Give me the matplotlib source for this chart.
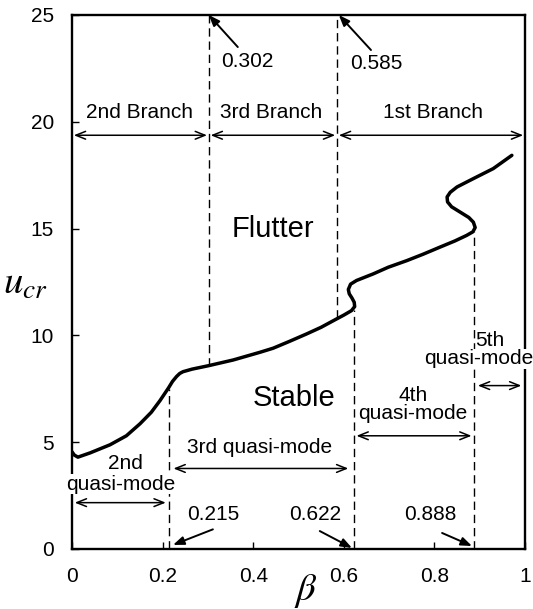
import matplotlib
matplotlib.use("Agg")
import matplotlib.pyplot as plt

plt.rcParams['font.family'] = ['Liberation Sans', 'DejaVu Sans']
plt.rcParams['mathtext.fontset'] = 'stix'

# critical flutter speed curve (beta, u_cr)
beta = [0.000, 0.005, 0.013, 0.040, 0.084, 0.120, 0.150, 0.175, 0.194, 0.213,
        0.222, 0.231, 0.238, 0.245, 0.265, 0.301, 0.356, 0.415, 0.444, 0.480,
        0.518, 0.550, 0.577, 0.600, 0.617, 0.624, 0.623, 0.618, 0.612, 0.610,
        0.615, 0.628, 0.665, 0.698, 0.739, 0.775, 0.812, 0.845, 0.871, 0.885,
        0.890, 0.886, 0.876, 0.857, 0.838, 0.829, 0.828, 0.835, 0.850, 0.886,
        0.930, 0.971]
u_cr = [4.55, 4.40, 4.30, 4.50, 4.88, 5.30, 5.86, 6.40, 6.94, 7.54,
        7.85, 8.08, 8.22, 8.30, 8.42, 8.58, 8.85, 9.21, 9.40, 9.72,
        10.07, 10.38, 10.69, 10.95, 11.16, 11.35, 11.55, 11.75, 11.95, 12.15,
        12.40, 12.57, 12.88, 13.19, 13.50, 13.80, 14.13, 14.42, 14.68, 14.85,
        15.05, 15.30, 15.52, 15.77, 16.02, 16.25, 16.48, 16.70, 16.95, 17.34,
        17.81, 18.43]

# branch boundaries (upper dashed lines) and quasi-mode boundaries (lower dashed lines)
branch_x = [0.302, 0.585]
branch_lo = [8.58, 10.80]
mode_x = [0.215, 0.622, 0.888]
mode_hi = [7.50, 11.20, 14.85]

branch_labels = ["2nd Branch", "3rd Branch", "1st Branch"]
branch_spans = [(0.0, 0.302), (0.302, 0.585), (0.585, 1.0)]

xticks = [0, 0.2, 0.4, 0.6, 0.8, 1]
xticklabels = ["0", "0.2", "0.4", "0.6", "0.8", "1"]
yticks = [0, 5, 10, 15, 20, 25]

fig = plt.figure(figsize=(5.33, 6.09), dpi=100)
ax = fig.add_axes([72/533, 1-549/609, (525-72)/533, (549-15)/609])

ax.plot(beta, u_cr, color='black', lw=2.5, solid_joinstyle='round', solid_capstyle='round', zorder=4)

for x, lo in zip(branch_x, branch_lo):
    ax.plot([x, x], [lo, 25], color='black', lw=1.0, dashes=(6, 3.5), zorder=2)
for x, hi in zip(mode_x, mode_hi):
    ax.plot([x, x], [0, hi], color='black', lw=1.0, dashes=(6, 3.5), zorder=2)

fs = 15
dbl = dict(arrowstyle='<->,head_length=0.7,head_width=0.28', color='black', lw=1.1,
           shrinkA=0, shrinkB=0)
one = dict(arrowstyle='-|>,head_length=0.65,head_width=0.25', color='black', lw=1.4,
           shrinkA=0, shrinkB=0)

# branch arrows
y_br = 19.37
for lab, (a, b) in zip(branch_labels, branch_spans):
    ax.annotate('', xy=(b - 0.004, y_br), xytext=(a + 0.004, y_br), arrowprops=dbl)
ax.text(0.15, 20.45, "2nd Branch", fontsize=fs, ha='center', va='center')
ax.text(0.44, 20.45, "3rd Branch", fontsize=fs, ha='center', va='center')
ax.text(0.797, 20.45, "1st Branch", fontsize=fs, ha='center', va='center')

# top value annotations
ax.annotate('', xy=(0.302, 25), xytext=(0.366, 23.5), arrowprops=one)
ax.text(0.386, 22.8, "0.302", fontsize=fs, ha='center', va='center')
ax.annotate('', xy=(0.589, 25), xytext=(0.66, 23.36), arrowprops=one)
ax.text(0.671, 22.75, "0.585", fontsize=fs, ha='center', va='center')

# region labels
ax.text(0.444, 15.0, "Flutter", fontsize=21, ha='center', va='center')
ax.text(0.49, 7.05, "Stable", fontsize=21, ha='center', va='center')

# quasi-mode arrows and labels
wb = dict(facecolor='white', edgecolor='none', pad=0.5)
ax.annotate('', xy=(0.207, 2.17), xytext=(0.006, 2.17), arrowprops=dbl)
ax.text(0.117, 3.98, "2nd", fontsize=fs, ha='center', va='center')
ax.text(0.107, 3.04, "quasi-mode", fontsize=fs, ha='center', va='center', bbox=wb, zorder=5)

ax.annotate('', xy=(0.610, 3.77), xytext=(0.224, 3.77), arrowprops=dbl)
ax.text(0.413, 4.75, "3rd quasi-mode", fontsize=fs, ha='center', va='center')

ax.annotate('', xy=(0.882, 5.3), xytext=(0.628, 5.3), arrowprops=dbl)
ax.text(0.753, 7.18, "4th", fontsize=fs, ha='center', va='center')
ax.text(0.753, 6.33, "quasi-mode", fontsize=fs, ha='center', va='center')

ax.annotate('', xy=(0.992, 7.65), xytext=(0.896, 7.65), arrowprops=dbl)
ax.text(0.923, 9.76, "5th", fontsize=fs, ha='center', va='center')
ax.text(0.898, 8.9, "quasi-mode", fontsize=fs, ha='center', va='center', bbox=wb, zorder=5)

# bottom value annotations
ax.annotate('', xy=(0.223, 0.19), xytext=(0.311, 0.92), arrowprops=one)
ax.text(0.311, 1.63, "0.215", fontsize=fs, ha='center', va='center')
ax.annotate('', xy=(0.618, 0.05), xytext=(0.547, 0.84), arrowprops=one)
ax.text(0.536, 1.63, "0.622", fontsize=fs, ha='center', va='center')
ax.annotate('', xy=(0.883, 0.14), xytext=(0.817, 0.75), arrowprops=one)
ax.text(0.79, 1.63, "0.888", fontsize=fs, ha='center', va='center')

ax.set_xlim(0, 1)
ax.set_ylim(0, 25)
ax.set_xticks(xticks)
ax.set_xticklabels(xticklabels)
ax.set_yticks(yticks)
ax.tick_params(direction='in', length=5, width=1.0, labelsize=fs, pad=13,
               top=False, right=False)
for s in ax.spines.values():
    s.set_linewidth(1.7)

ax.text(-0.103, 0.497, r"$u_{cr}$", fontsize=28, ha='center', va='center',
        transform=ax.transAxes)
ax.text(0.517, -0.079, r"$\beta$", fontsize=28, ha='center', va='center',
        transform=ax.transAxes)

fig.savefig("out.png", dpi=100)
